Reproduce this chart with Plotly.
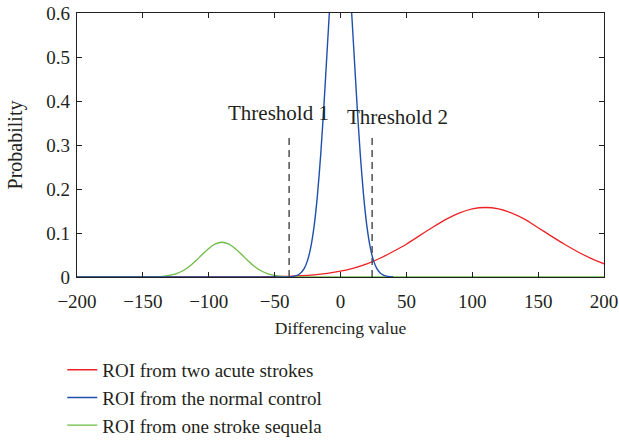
import plotly.graph_objects as go

# ---- data ----
x_red = [-200, -150, -100, -80, -60, -50, -40, -30, -20, -10, 0, 10, 20, 30, 40, 50, 60, 70, 80, 90,
         100, 110, 120, 130, 140, 150, 160, 170, 180, 190, 200]
y_red = [0.0, 0.0, 0.00002, 0.0001, 0.0004, 0.0008, 0.0016, 0.0028, 0.0049, 0.0083, 0.0132, 0.0204,
         0.030, 0.0426, 0.0579, 0.0745, 0.0940, 0.1130, 0.1310, 0.1452, 0.1548, 0.158, 0.1548, 0.1452,
         0.1310, 0.1120, 0.0930, 0.0745, 0.0575, 0.0425, 0.030]

x_blue = [-200, -50, -40, -37.5, -35, -32.5, -30, -27.5, -25, -22.5, -20, -17.5, -15, -12.5, -10, -7.5,
          -5, -2.5, 0, 2.5, 5, 7.5, 10, 12.5, 15, 17.5, 20, 22.5, 25, 27.5, 30, 32.5, 35, 37.5, 40]
y_blue = [0.0, 0.0, 0.0003, 0.0008, 0.0019, 0.0044, 0.0096, 0.0196, 0.0378, 0.0685, 0.116, 0.186,
          0.279, 0.394, 0.522, 0.649, 0.759, 0.834, 0.86, 0.834, 0.759, 0.649, 0.522, 0.394, 0.279,
          0.186, 0.116, 0.0685, 0.0378, 0.0196, 0.0096, 0.0044, 0.0019, 0.0008, 0.0003]

x_green = [-200, -160, -150, -145, -140, -135, -130, -125, -120, -115, -110, -105, -100, -95, -90,
           -85, -80, -75, -70, -65, -60, -55, -50, -45, -40, -35, -30, -20, 200]
y_green = [0.0, 0.0, 0.0001, 0.0002, 0.0006, 0.0015, 0.0035, 0.0072, 0.0136, 0.0233, 0.0362, 0.051,
           0.065, 0.0752, 0.079, 0.0752, 0.065, 0.051, 0.0362, 0.0233, 0.0136, 0.0072, 0.0035, 0.0015,
           0.0006, 0.0002, 0.0001, 0.0, 0.0]

thresholds = [-39, 24]
threshold_top = 0.323
threshold_labels = ["Threshold 1", "Threshold 2"]
label_x = [-47, 43]
label_y = [0.373, 0.364]

x_ticks = [-200, -150, -100, -50, 0, 50, 100, 150, 200]
y_ticks = [0, 0.1, 0.2, 0.3, 0.4, 0.5, 0.6]

names = ["ROI from two acute strokes", "ROI from the normal control", "ROI from one stroke sequela"]

FONT = "Liberation Serif"
TXT = "#231f20"

fig = go.Figure()
fig.add_trace(go.Scatter(x=x_red, y=y_red, mode="lines", name=names[0],
                         line=dict(color="#ee2224", width=1.3, shape="spline", smoothing=0.6)))
fig.add_trace(go.Scatter(x=x_green, y=y_green, mode="lines", name=names[2], showlegend=False,
                         line=dict(color="#6dbb45", width=1.3, shape="spline", smoothing=0.6)))
fig.add_trace(go.Scatter(x=x_blue, y=y_blue, mode="lines", name=names[1],
                         line=dict(color="#1f4fad", width=1.4, shape="spline", smoothing=0.6)))
# legend-only entry for green, so legend order is red, blue, green
fig.add_trace(go.Scatter(x=[None], y=[None], mode="lines", name=names[2],
                         line=dict(color="#6dbb45", width=1.3)))

for t in thresholds:
    fig.add_trace(go.Scatter(x=[t, t], y=[0, threshold_top], mode="lines", showlegend=False,
                             line=dict(color="#444444", width=1.4, dash="7px,5px")))

for tx, lx, ly in zip(threshold_labels, label_x, label_y):
    fig.add_annotation(x=lx, y=ly, text=tx, showarrow=False,
                       font=dict(family=FONT, size=21, color=TXT))

axis_common = dict(showline=True, linecolor="#231f20", linewidth=1.3, mirror="ticks",
                   ticks="inside", ticklen=5, tickcolor="#231f20", showgrid=False, zeroline=False,
                   automargin=False, tickfont=dict(family=FONT, size=19, color=TXT))

fig.update_xaxes(range=[-200, 200], tickvals=x_ticks, ticklabelstandoff=7,
                 title=dict(text="Differencing value", font=dict(family=FONT, size=17.5, color=TXT),
                            standoff=10),
                 **axis_common)
fig.update_yaxes(range=[0, 0.6], tickvals=y_ticks, ticklabelstandoff=2,
                 title=dict(text="Probability", font=dict(family=FONT, size=20, color=TXT),
                            standoff=18),
                 **axis_common)

fig.update_layout(
    width=619, height=440,
    margin=dict(l=77, r=15, t=13, b=163, autoexpand=False),
    plot_bgcolor="white", paper_bgcolor="white",
    showlegend=True,
    legend=dict(x=-0.028, y=-0.28, xanchor="left", yanchor="top",
                font=dict(family=FONT, size=19, color=TXT),
                tracegroupgap=0, itemwidth=30, bgcolor="rgba(0,0,0,0)"),
)

fig.write_html("out.html")
